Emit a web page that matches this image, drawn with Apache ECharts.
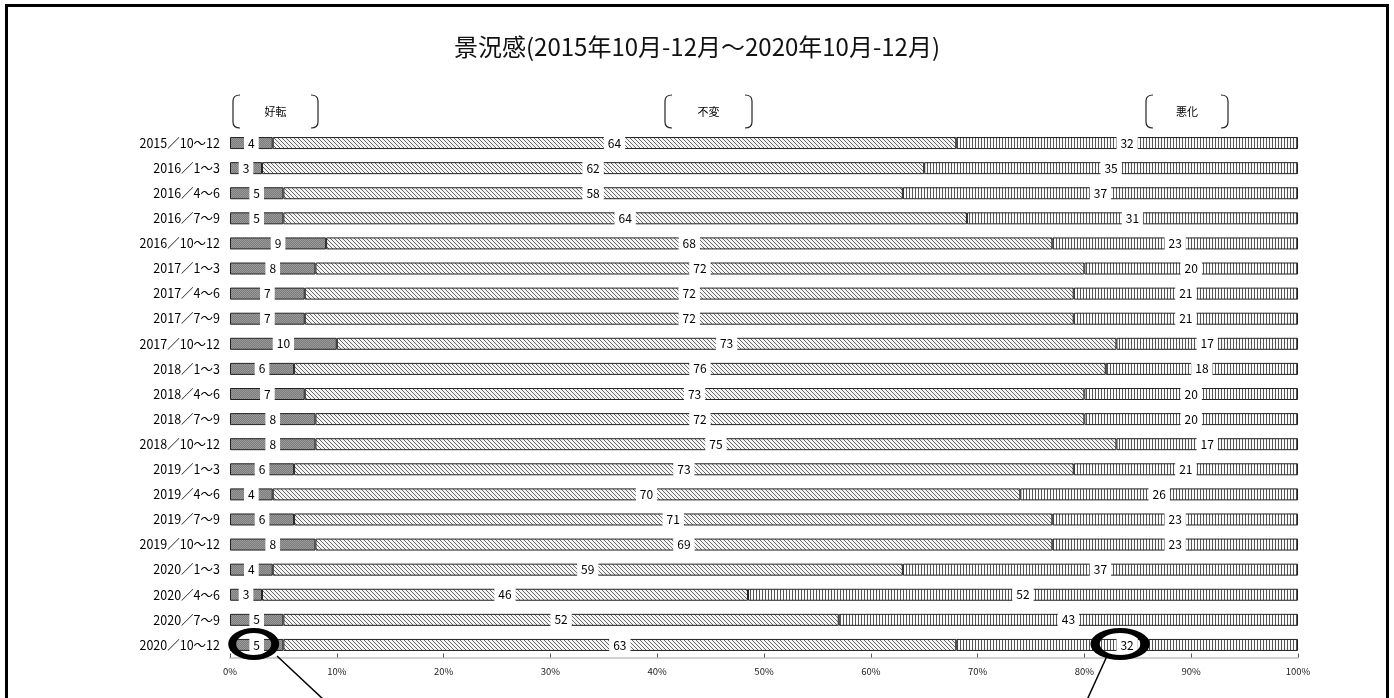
<!DOCTYPE html>
<html>
<head>
<meta charset="utf-8">
<script src="https://cdn.jsdelivr.net/npm/echarts@6/dist/echarts.min.js"></script>
<style>
html,body{margin:0;padding:0;background:#fff;}
#main{width:1394px;height:698px;}
</style>
</head>
<body>
<div id="main"></div>
<script>
const categories = ['2015／10～12','2016／1～3','2016／4～6','2016／7～9','2016／10～12','2017／1～3','2017／4～6','2017／7～9','2017／10～12','2018／1～3','2018／4～6','2018／7～9','2018／10～12','2019／1～3','2019／4～6','2019／7～9','2019／10～12','2020／1～3','2020／4～6','2020／7～9','2020／10～12'];
const goodValues = [4,3,5,5,9,8,7,7,10,6,7,8,8,6,4,6,8,4,3,5,5];
const sameValues = [64,62,58,64,68,72,72,72,73,76,73,72,75,73,70,71,69,59,45.5,52,63];
const worseValues = [32,35,37,31,23,20,21,21,17,18,20,20,17,21,26,23,23,37,51.5,43,32];
const xTickLabels = ['0%','10%','20%','30%','40%','50%','60%','70%','80%','90%','100%'];
const seriesNames = ['好転','不変','悪化'];
const titleText = '景況感(2015年10月-12月～2020年10月-12月)';

function makePattern(kind){
  const c = document.createElement('canvas');
  if(kind==='diag'){
    c.width=4;c.height=4;
    const g=c.getContext('2d');
    g.fillStyle='#f4f4f4';g.fillRect(0,0,4,4);
    g.fillStyle='#6a6a6a';
    for(let i=0;i<4;i++){ g.fillRect(i,i,1,1); }
  } else if(kind==='vert'){
    c.width=3;c.height=2;
    const g=c.getContext('2d');
    g.fillStyle='#fafafa';g.fillRect(0,0,3,2);
    g.fillStyle='#555';g.fillRect(0,0,1,2);
  } else {
    c.width=2;c.height=2;
    const g=c.getContext('2d');
    g.fillStyle='#7c7c7c';g.fillRect(0,0,2,2);
    g.fillStyle='#9a9a9a';g.fillRect(0,0,1,1);g.fillRect(1,1,1,1);
  }
  return {image:c, repeat:'repeat'};
}

const chart = echarts.init(document.getElementById('main'), null, {renderer:'canvas'});
const FONT = "'Noto Sans CJK JP', 'Noto Sans', sans-serif";

const labelCfg = {
  show:true, position:'inside', color:'#000', fontSize:12, fontFamily:FONT,
  backgroundColor:'#fff', padding:[3,4],
  formatter: p => Math.round(p.value)
};

function mkSeries(name, data, pattern){
  return {
    name, type:'bar', stack:'total', data, barWidth:12,
    itemStyle:{color:makePattern(pattern), borderColor:'#222', borderWidth:1},
    label:labelCfg, emphasis:{disabled:true}, animation:false
  };
}

const option = {
  animation:false,
  textStyle:{fontFamily:FONT},
  title:{text:titleText, left:'center', top:30,
    textStyle:{fontSize:24, fontWeight:'normal', color:'#111', fontFamily:FONT}},
  grid:{left:230, right:96, top:130.5, bottom:40.5},
  xAxis:{type:'value', min:0, max:100, interval:10,
    axisLine:{show:true, lineStyle:{color:'#d0d0d0', width:2}},
    axisTick:{show:true, inside:true, length:4, lineStyle:{color:'#555'}},
    splitLine:{show:false},
    axisLabel:{color:'#222', fontSize:9.5, margin:9, fontFamily:FONT,
      formatter:(v)=>xTickLabels[Math.round(v/10)]}
  },
  yAxis:{type:'category', data:categories, inverse:true,
    axisLine:{show:false}, axisTick:{show:false},
    axisLabel:{color:'#000', fontSize:12.5, margin:10, fontFamily:FONT}
  },
  series:[
    mkSeries(seriesNames[0], goodValues, 'good'),
    mkSeries(seriesNames[1], sameValues, 'diag'),
    mkSeries(seriesNames[2], worseValues, 'vert')
  ]
};
chart.setOption(option);

function bracketGraphics(x1, x2, text){
  const y1=95, y2=128, d=7, v=6;
  const st = {stroke:'#222', lineWidth:1.2, fill:null};
  return [
    {type:'bezierCurve', shape:{x1:x1+d, y1:y1, cpx1:x1, cpy1:y1, x2:x1, y2:y1+v}, style:st},
    {type:'line', shape:{x1:x1, y1:y1+v, x2:x1, y2:y2-v}, style:st},
    {type:'bezierCurve', shape:{x1:x1, y1:y2-v, cpx1:x1, cpy1:y2, x2:x1+d, y2:y2}, style:st},
    {type:'bezierCurve', shape:{x1:x2-d, y1:y1, cpx1:x2, cpy1:y1, x2:x2, y2:y1+v}, style:st},
    {type:'line', shape:{x1:x2, y1:y1+v, x2:x2, y2:y2-v}, style:st},
    {type:'bezierCurve', shape:{x1:x2, y1:y2-v, cpx1:x2, cpy1:y2, x2:x2-d, y2:y2}, style:st},
    {type:'text', style:{text:text, x:(x1+x2)/2, y:(y1+y2)/2, align:'center', verticalAlign:'middle',
      fontSize:11, fill:'#000', fontFamily:FONT}}
  ];
}

function ellipseGraphic(cx, cy, rx, ry){
  return {type:'circle', x:cx, y:cy, scaleX:rx/ry, scaleY:1, shape:{cx:0, cy:0, r:ry},
    style:{fill:null, stroke:'#000', lineWidth:5, strokeNoScale:true}, z:100};
}

const last = categories.length-1;
const goodPt = chart.convertToPixel({gridIndex:0}, [goodValues[last]/2, last]);
const worsePt = chart.convertToPixel({gridIndex:0}, [goodValues[last]+sameValues[last]+worseValues[last]/2, last]);

const graphics = []
  .concat(bracketGraphics(233, 318, seriesNames[0]))
  .concat(bracketGraphics(665, 752, seriesNames[1]))
  .concat(bracketGraphics(1146, 1228, seriesNames[2]))
  .concat([
    {type:'rect', shape:{x:6.5, y:5.5, width:1381, height:800}, style:{fill:null, stroke:'#000', lineWidth:3}},
    ellipseGraphic(goodPt[0]-3, goodPt[1]-1, 21.5, 13.5),
    ellipseGraphic(worsePt[0]-7, worsePt[1]-1, 25, 13.5),
    {type:'line', shape:{x1:277, y1:656, x2:324, y2:700}, style:{stroke:'#000', lineWidth:1.5}, z:100},
    {type:'line', shape:{x1:1107, y1:656, x2:1087, y2:700}, style:{stroke:'#000', lineWidth:1.5}, z:100}
  ]);
chart.setOption({graphic:graphics});
</script>
</body>
</html>
